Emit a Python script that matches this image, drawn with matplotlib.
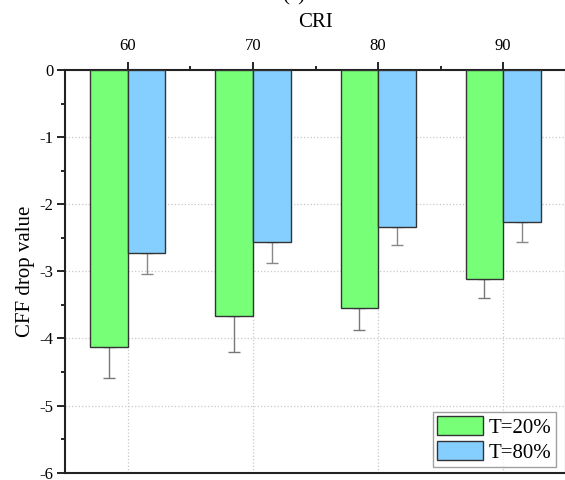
import numpy as np
import matplotlib.pyplot as plt

cri = [60, 70, 80, 90]
drop_t20 = [-4.12, -3.66, -3.54, -3.12]
err_t20 = [0.47, 0.54, 0.34, 0.28]
drop_t80 = [-2.73, -2.57, -2.34, -2.27]
err_t80 = [0.31, 0.31, 0.26, 0.30]
labels = ['T=20%', 'T=80%']

plt.rcParams['font.family'] = ['Liberation Serif', 'DejaVu Serif']

fig = plt.figure(figsize=(5.65, 4.80), dpi=100)
ax = fig.add_axes([65.3 / 565, 7.3 / 480, 500.5 / 565, 402.7 / 480])

x = np.array(cri)
w = 3.0
ax.bar(x - w / 2, drop_t20, w, color='#77FF77', edgecolor='#333333', linewidth=1,
       label=labels[0], zorder=3)
ax.bar(x + w / 2, drop_t80, w, color='#84CFFF', edgecolor='#333333', linewidth=1,
       label=labels[1], zorder=3)
# error bars only go downward
ax.errorbar(x - w / 2, drop_t20, yerr=[err_t20, [0] * 4], fmt='none', ecolor='#777777',
            elinewidth=1, capsize=4, capthick=1, zorder=2)
ax.errorbar(x + w / 2, drop_t80, yerr=[err_t80, [0] * 4], fmt='none', ecolor='#888888',
            elinewidth=1, capsize=4, capthick=1, zorder=2)

ax.set_xlim(55, 95)
ax.set_ylim(-6, 0)
ax.xaxis.tick_top()
ax.xaxis.set_label_position('top')
ax.set_xticks(cri)
ax.set_xticks([65, 75, 85], minor=True)
ax.set_yticks(range(-6, 1))
ax.set_yticks(np.arange(-5.5, 0, 1), minor=True)
ax.set_yticklabels([str(v) for v in range(-6, 1)])

ax.tick_params(axis='both', which='major', direction='out', length=5.5, width=1.2,
               labelsize=12, pad=3)
ax.tick_params(axis='both', which='minor', direction='out', length=3, width=1.2)
ax.tick_params(axis='x', which='major', pad=6)

for s in ax.spines.values():
    s.set_linewidth(1.5)
    s.set_color('#222222')

ax.grid(True, which='major', linestyle=':', color='#c8c8c8', linewidth=0.9, zorder=0)
ax.set_axisbelow(True)

ax.set_xlabel('CRI', fontsize=15, labelpad=8)
ax.set_ylabel('CFF drop value', fontsize=15, labelpad=3)
fig.text(0.519, 1.008, '(a)', fontsize=15, ha='center', va='center')

leg = ax.legend(loc='lower right', bbox_to_anchor=(556 / 565, 13 / 480),
                bbox_transform=fig.transFigure, borderaxespad=0, fontsize=15,
                frameon=True, fancybox=False, edgecolor='#888888',
                handlelength=2.2, handleheight=1.05, labelspacing=0.15,
                handletextpad=0.3, borderpad=0.2)
leg.get_frame().set_linewidth(1)

fig.savefig('out.png', dpi=100)
